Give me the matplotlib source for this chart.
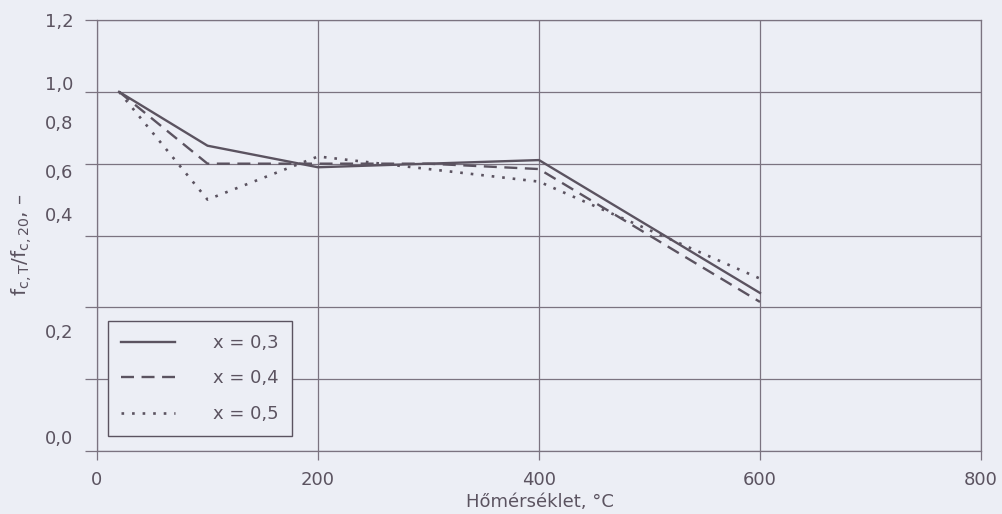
import matplotlib
matplotlib.use("Agg")
import matplotlib.pyplot as plt

# ---- data ----
temps = [20, 100, 200, 300, 400, 600]
ratio_x03 = [1.00, 0.85, 0.79, 0.80, 0.81, 0.44]
ratio_x04 = [1.00, 0.80, 0.80, 0.80, 0.785, 0.415]
ratio_x05 = [1.00, 0.70, 0.82, 0.785, 0.75, 0.48]
series_labels = ["x = 0,3", "x = 0,4", "x = 0,5"]

x_ticks = [0, 200, 400, 600, 800]
y_grid = [0.0, 0.2, 0.4, 0.6, 0.8, 1.0, 1.2]
y_tick_labels = ["1,2", "1,0", "0,8", "0,6", "0,4", "0,2", "0,0"]
# label placement (as printed in the source, offset from grid)
y_label_pos = [1.2, 1.025, 0.916, 0.78, 0.66, 0.334, 0.039]

BG = "#eceef5"
INK = "#5b5360"
GRID = "#7b7380"
FS = 13

plt.rcParams["font.family"] = ["DejaVu Sans"]
plt.rcParams["mathtext.fontset"] = "dejavusans"

fig = plt.figure(figsize=(10.03, 5.14), dpi=100, facecolor=BG)
ax = fig.add_axes([97/1003, 63/514, (981-97)/1003, (451-20)/514])
ax.set_facecolor(BG)
ax.yaxis.remove_overlapping_locs = False

lw = 1.7
ax.plot(temps, ratio_x03, color=INK, lw=lw, ls="-", label=series_labels[0])
ax.plot(temps, ratio_x04, color=INK, lw=lw, ls=(0, (5.5, 3.2)), label=series_labels[1])
ax.plot(temps, ratio_x05, color=INK, lw=1.9, ls=(0, (1, 3)), label=series_labels[2])

ax.set_xlim(0, 800)
ax.set_ylim(0, 1.2)

ax.set_xticks(x_ticks)
ax.set_xticklabels([str(v) for v in x_ticks])
ax.set_yticks(y_grid)
ax.set_yticklabels([])
ax.set_yticks(y_label_pos, labels=y_tick_labels, minor=True)

ax.tick_params(axis="y", which="major", length=8.6, width=0.9, color=GRID, direction="out")
ax.tick_params(axis="y", which="minor", length=0, pad=17, labelsize=FS, labelcolor=INK)
ax.tick_params(axis="x", which="major", length=6.5, width=0.9, color=GRID, direction="out",
               pad=8, labelsize=FS, labelcolor=INK)

ax.grid(True, which="major", color=GRID, lw=0.9)
ax.grid(False, which="minor")
ax.set_axisbelow(True)
for s in ax.spines.values():
    s.set_color(GRID)
    s.set_linewidth(0.9)

leg = ax.legend(loc="lower left", bbox_to_anchor=(108/1003, 78/514), bbox_transform=fig.transFigure,
                borderaxespad=0, fontsize=FS, handlelength=3.0, handletextpad=2.1,
                labelspacing=0.97, borderpad=0.72, fancybox=False, framealpha=1,
                facecolor=BG, edgecolor=INK, labelcolor=INK)
leg.get_frame().set_linewidth(1.0)
leg.set_zorder(5)

fig.text(540/1003, 1 - 502/514, "Hőmérséklet, °C", ha="center", va="center",
         fontsize=FS, color=INK)
fig.text(22/1003, 1 - 245/514, r"f$_{\mathrm{c,T}}$/f$_{\mathrm{c,20}}$, –", rotation=90,
         ha="center", va="center", fontsize=FS + 1.5, color=INK)

fig.savefig("out.png", dpi=100, facecolor=BG)
